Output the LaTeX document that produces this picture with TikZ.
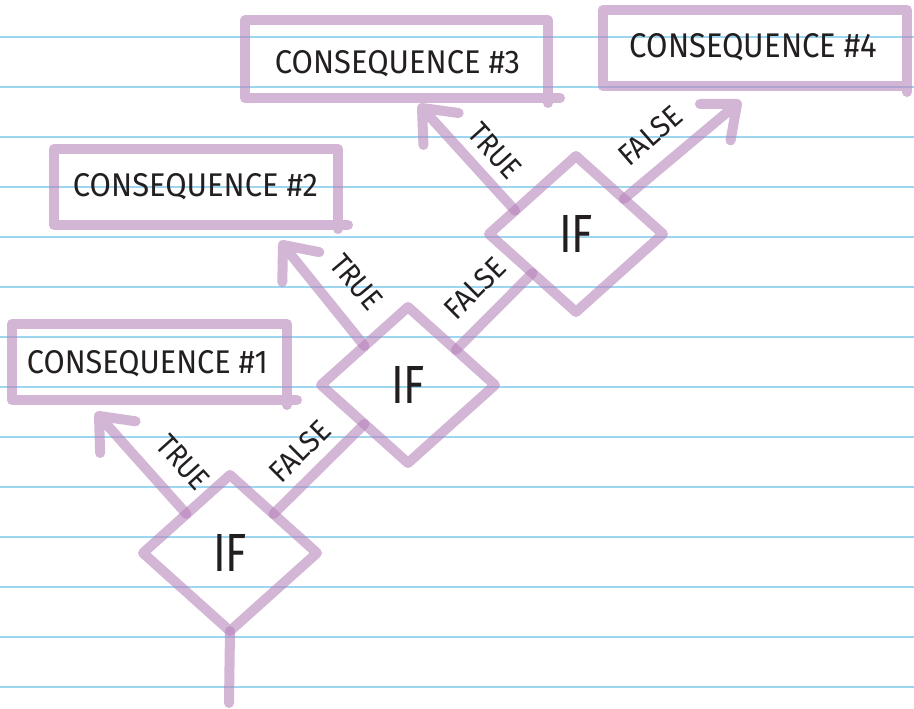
\documentclass[tikz,border=0pt]{standalone}
\usepackage{fontspec}
\setmainfont{Fira Sans}
\usetikzlibrary{calc,shapes.geometric}
\definecolor{pur}{RGB}{183,132,187}
\definecolor{rulecol}{RGB}{158,214,240}
\definecolor{ink}{RGB}{35,31,32}
\newcommand{\vArrow}[2]{\draw[pen] (#1) -- (#2) -- ($(#2)!37pt!40:(#1)$) (#2) -- ($(#2)!37pt!-40:(#1)$);}
\newcommand{\fitText}[3]{\resizebox{#1pt}{#2pt}{#3}}
\tikzset{
  pen/.style={draw=pur, draw opacity=0.6, line width=10pt, line cap=round, line join=round},
  rulestyle/.style={draw=rulecol, line width=1.8pt},
  ifbox/.style={shape=diamond, draw=pur, draw opacity=0.6, line width=10pt, line join=round,
    minimum width=174pt, minimum height=156pt, inner sep=0pt, outer sep=0pt,
    text=ink, text depth=0pt},
  conbox/.style={rectangle, draw=none, inner sep=0pt, outer sep=0pt},
  ctext/.style={inner sep=0pt, text=ink, text depth=0pt},
  lbl/.style={inner sep=0pt, text=ink, text depth=0pt}
}
\begin{document}
\begin{tikzpicture}[x=1pt,y=-1pt]
\useasboundingbox (0,0) rectangle (914,709);
\fill[white] (0,0) rectangle (914,709);
% ruled paper
\foreach \k in {0,...,13}{
  \draw[rulestyle] (0,{36.7+50*\k}) -- (914,{36.7+50*\k});
}
% diamonds
\node[ifbox] (d1) at (230,553) {\fitText{34}{37}{IF}};
\node[ifbox] (d2) at (408,385) {\fitText{34}{37}{IF}};
\node[ifbox] (d3) at (576,234) {\fitText{34}{37}{IF}};
% consequence boxes
\node[conbox, minimum width=275pt, minimum height=76pt] (b1) at (149.5,362) {};
\node[conbox, minimum width=284pt, minimum height=76pt] (b2) at (196,187) {};
\node[conbox, minimum width=303pt, minimum height=77.5pt] (b3) at (396.5,59.25) {};
\node[conbox, minimum width=304pt, minimum height=76pt] (b4) at (755,48) {};
\draw[pen] ($(b1.south east)+(10,0)$) -- (b1.south west) -- (b1.north west) -- (b1.north east) -- ($(b1.south east)+(0,5)$);
\draw[pen] ($(b2.south east)+(10,0)$) -- (b2.south west) -- (b2.north west) -- (b2.north east) -- ($(b2.south east)+(0,4)$);
\draw[pen] ($(b3.south east)+(12,0)$) -- (b3.south west) -- (b3.north west) -- (b3.north east) -- ($(b3.south east)+(0,5)$);
\draw[pen] (b4.south east) -- (b4.south west) -- (b4.north west) -- (b4.north east) -- ($(b4.south east)+(0,6)$);
\node[ctext] (c1) at (147.5,361.5) {\fitText{241}{23}{CONSEQUENCE \#1}};
\node[ctext] (c2) at (195.5,185) {\fitText{245}{23}{CONSEQUENCE \#2}};
\node[ctext] (c3) at (397.5,62) {\fitText{245}{23}{CONSEQUENCE \#3}};
\node[ctext] (c4) at (753.5,45.5) {\fitText{247}{24}{CONSEQUENCE \#4}};
% connector end points
\coordinate (s1t) at ($(d1.west)!0.5!(d1.north)$);
\coordinate (s1f) at ($(d1.north)!0.5!(d1.east)$);
\coordinate (e1f) at ($(d2.west)!0.5!(d2.south)$);
\coordinate (s2t) at ($(d2.west)!0.5!(d2.north)$);
\coordinate (s2f) at ($(d2.north)!0.55!(d2.east)$);
\coordinate (e2f) at ($(d3.west)!0.5!(d3.south)$);
\coordinate (s3t) at ($(d3.west)!0.3!(d3.north)$);
\coordinate (s3f) at ($(d3.north)!0.55!(d3.east)$);
\coordinate (tip1) at (99,416);
\coordinate (tip2) at (283,245);
\coordinate (tip3) at (422,108);
\coordinate (tip4) at (737,104);
\coordinate (stem) at (229,703);
% connectors
\draw[pen] (d1.south) -- (stem);
\draw[pen] (s1f) -- (e1f);
\draw[pen] (s2f) -- (e2f);
\vArrow{s1t}{tip1}
\vArrow{s2t}{tip2}
\vArrow{s3t}{tip3}
\vArrow{s3f}{tip4}
% labels
\node[lbl, rotate=-48] (tr1) at (183.5,462.5) {\fitText{62}{21}{TRUE}};
\node[lbl, rotate=45] (fa1) at (300,451) {\fitText{73}{21}{FALSE}};
\node[lbl, rotate=-50] (tr2) at (356.5,282) {\fitText{62}{21}{TRUE}};
\node[lbl, rotate=45] (fa2) at (475,288) {\fitText{73}{21}{FALSE}};
\node[lbl, rotate=-48] (tr3) at (495,151) {\fitText{62}{21}{TRUE}};
\node[lbl, rotate=41] (fa3) at (650,135.5) {\fitText{73}{21}{FALSE}};
\end{tikzpicture}
\end{document}
